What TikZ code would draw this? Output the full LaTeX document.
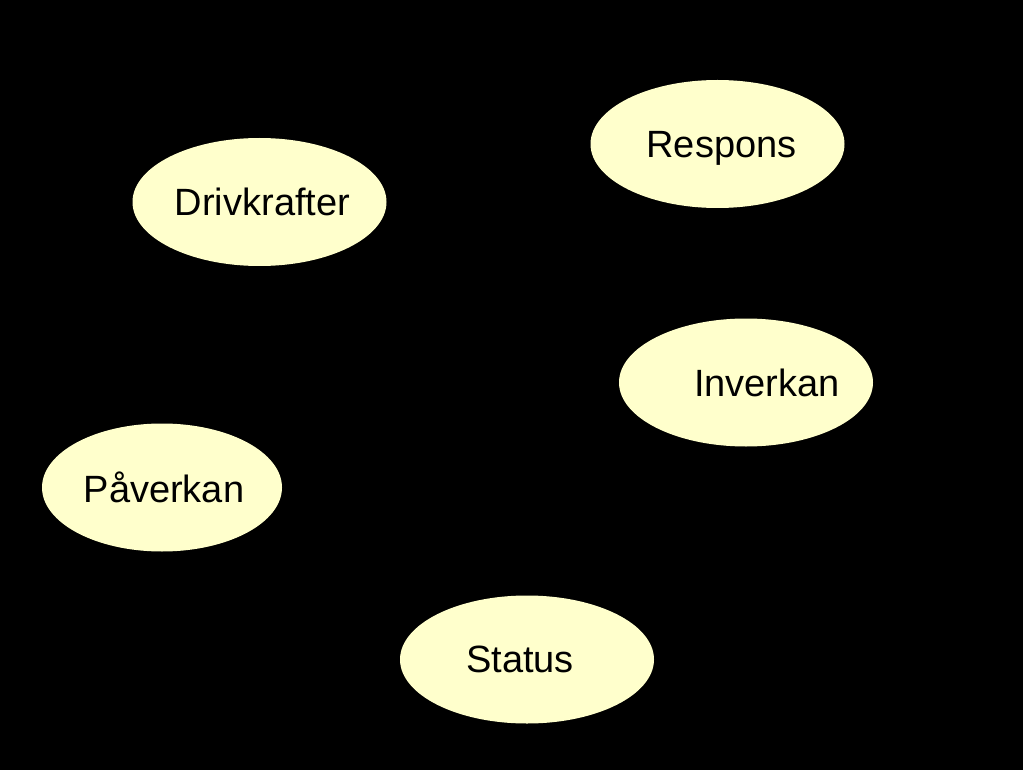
\documentclass[tikz,border=0pt]{standalone}
\usepackage{fontspec}
\setmainfont{Liberation Sans}
\usetikzlibrary{shapes.geometric}
\definecolor{blobfill}{RGB}{255,255,204}
\tikzset{blob/.style={ellipse, fill=blobfill, inner sep=0pt, minimum width=254pt, minimum height=128pt},
  every label/.style={font=\fontsize{38}{40}\selectfont, inner sep=0pt, text depth=0pt}}
\begin{document}
\begin{tikzpicture}[x=1pt,y=-1pt]
\fill[black](0,0) rectangle (1023,770);

\node[blob, label={[xshift=3pt]center:Drivkrafter}] (drivkrafter) at (259.5,202) {};
\node[blob, label={[xshift=4pt]center:Respons}] (respons) at (717.5,144) {};
\node[blob, label={[xshift=21pt]center:Inverkan}] (inverkan) at (746,382.5) {};
\node[blob, minimum width=240pt, label={[xshift=2pt]center:Påverkan}] (paverkan) at (162,487.5) {};
\node[blob, label={[xshift=-7pt]center:Status}] (status) at (527,659.5) {};

\end{tikzpicture}
\end{document}
